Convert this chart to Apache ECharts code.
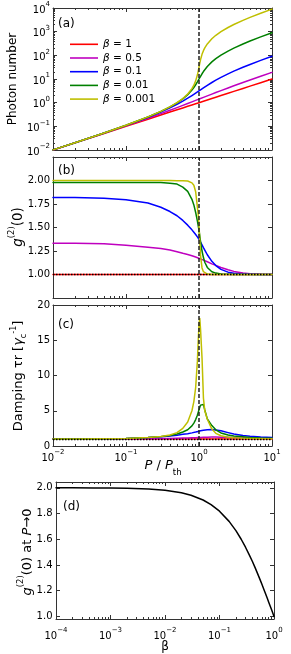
<!DOCTYPE html>
<html><head><meta charset="utf-8">
<script src="https://cdn.jsdelivr.net/npm/echarts@6/dist/echarts.min.js"></script>
<style>html,body{margin:0;padding:0;background:#fff}#c{width:291px;height:654px}</style>
</head><body><div id="c"></div>
<script>
// ---------------- data ----------------
const pump = [0.01,0.02,0.05,0.1,0.2,0.3,0.4,0.5,0.6,0.7,0.8,0.85,0.9,0.95,0.975,1.0,1.025,1.05,1.1,1.15,1.2,1.3,1.5,1.7,2,2.5,3,4,5,7,10];
const betaNames = ['β = 1','β = 0.5','β = 0.1','β = 0.01','β = 0.001'];
const colors = ['#ff0000','#bf00bf','#0000ff','#008000','#bfbf00'];

const photonB1    = [0.01,0.02,0.05,0.1,0.2,0.3,0.4,0.5,0.6,0.7,0.8,0.85,0.9,0.95,0.975,1.0,1.025,1.05,1.1,1.15,1.2,1.3,1.5,1.7,2,2.5,3,4,5,7,10];
const photonB05   = [0.01005,0.0202,0.0513,0.105,0.2198,0.344,0.477,0.618,0.766,0.921,1.081,1.162,1.245,1.329,1.372,1.414,1.457,1.5,1.587,1.674,1.762,1.940,2.303,2.672,3.236,4.193,5.162,7.123,9.099,13.07,19.05];
const photonB01   = [0.0101,0.0204,0.0524,0.1098,0.2426,0.405,0.606,0.854,1.162,1.541,2.0,2.26,2.541,2.842,3.0,3.162,3.329,3.5,3.854,4.223,4.606,5.405,7.11,8.908,11.71,16.51,21.40,31.28,41.21,61.14,91.10];
const photonB001  = [0.0101,0.0204,0.0526,0.1109,0.2492,0.426,0.660,0.981,1.448,2.176,3.416,4.385,5.72,7.56,8.70,10,11.45,13.05,16.62,20.59,24.83,33.84,52.84,72.35,101.96,151.6,201.5,301.3,401.2,601.2,901.1];
const photonB0001 = [0.0101,0.0204,0.0526,0.1111,0.2499,0.4286,0.666,0.998,1.494,2.316,3.923,5.47,8.31,14.69,21.13,31.62,46.87,65.93,110,157.3,205.8,304.3,503,702.4,1002,1501.7,2001.5,3001.3,4001,6001,9001];

const g2B1    = [1,1,1,1,1,1,1,1,1,1,1,1,1,1,1,1,1,1,1,1,1,1,1,1,1,1,1,1,1,1,1];
const g2B05   = [1.333,1.332,1.328,1.31,1.29,1.276,1.26,1.243,1.226,1.213,1.2,1.193,1.186,1.18,1.176,1.173,1.17,1.166,1.16,1.153,1.147,1.135,1.113,1.097,1.075,1.05,1.033,1.017,1.009,1.003,1.001];
const g2B01   = [1.82,1.818,1.81,1.795,1.76,1.715,1.67,1.625,1.575,1.525,1.475,1.45,1.425,1.40,1.388,1.375,1.36,1.345,1.315,1.285,1.26,1.21,1.14,1.095,1.055,1.025,1.013,1.004,1.002,1.0,1.0];
const g2B001  = [1.98,1.98,1.98,1.98,1.98,1.978,1.972,1.962,1.93,1.885,1.80,1.74,1.66,1.57,1.52,1.47,1.41,1.35,1.25,1.18,1.13,1.075,1.03,1.015,1.006,1.002,1.0,1.0,1.0,1.0,1.0];
const g2B0001 = [2.0,2.0,2.0,2.0,2.0,2.0,1.999,1.998,1.997,1.995,1.975,1.95,1.88,1.72,1.64,1.52,1.35,1.20,1.07,1.03,1.015,1.005,1.0,1.0,1.0,1.0,1.0,1.0,1.0,1.0,1.0];

const dampB1    = [1,1,1,1,1,1,1,1,1,1,1,1,1,1,1,1,1,1,1,1,1,1,1,1,1,1,1,1,1,1,1];
const dampB05   = [1.0,1.0,1.01,1.02,1.04,1.06,1.08,1.1,1.12,1.14,1.16,1.17,1.18,1.19,1.195,1.2,1.205,1.21,1.22,1.23,1.24,1.25,1.26,1.26,1.25,1.23,1.21,1.18,1.15,1.11,1.08];
const dampB01   = [1.0,1.01,1.03,1.08,1.2,1.32,1.42,1.54,1.65,1.74,1.86,1.92,1.98,2.04,2.07,2.1,2.13,2.16,2.2,2.24,2.27,2.31,2.33,2.28,2.15,1.9,1.7,1.48,1.38,1.27,1.2];
const dampB001  = [1.0,1.01,1.03,1.08,1.2,1.33,1.5,1.7,1.98,2.3,2.85,3.25,3.75,4.35,4.75,5.15,5.5,5.8,6.02,5.9,5.1,3.85,2.9,2.3,1.85,1.55,1.42,1.3,1.22,1.14,1.1];
const dampB0001 = [1.0,1.01,1.03,1.08,1.2,1.35,1.55,1.9,2.5,3.4,5.0,6.3,8.3,12.0,14.8,17.2,18.1,16.5,12.5,6.8,5.0,3.8,2.4,1.8,1.45,1.25,1.17,1.1,1.07,1.04,1.02];

const betaVals = [1e-4,2e-4,5e-4,1e-3,2e-3,5e-3,0.01,0.02,0.03,0.05,0.07,0.1,0.15,0.2,0.25,0.3,0.35,0.4,0.45,0.5,0.55,0.6,0.65,0.7,0.75,0.8,0.85,0.9,0.95,1.0];
const g2Zero   = [1.9998,1.9996,1.999,1.998,1.996,1.990,1.980,1.961,1.942,1.905,1.869,1.818,1.739,1.667,1.6,1.538,1.481,1.429,1.379,1.333,1.290,1.25,1.212,1.176,1.143,1.111,1.081,1.053,1.026,1.0];

const pumpTicks   = [0.01,0.1,1,10];
const photonTicks = [0.01,0.1,1,10,100,1000,10000];
const g2Ticks     = [1.0,1.25,1.5,1.75,2.0];
const dampTicks   = [0,5,10,15,20];
const betaTicks   = [1e-4,1e-3,1e-2,1e-1,1];
const g2ZeroTicks = [1.0,1.2,1.4,1.6,1.8,2.0];

// ---------------- helpers ----------------
const FF = 'DejaVu Sans';
const AX = '#333';
function minorLog(majors){ const out=[]; for(let i=0;i<majors.length-1;i++){ for(let k=2;k<=9;k++) out.push(+(majors[i]*k).toPrecision(6)); } return out; }
function logFmt(v){ const e=Math.round(Math.log10(v)); return '{b|10}{s|'+(e<0?'−'+(-e):String(e))+'}'; }
const logRich = { b:{fontFamily:FF,fontSize:10,color:'#000',verticalAlign:'bottom',lineHeight:14}, s:{fontFamily:FF,fontSize:7,color:'#000',verticalAlign:'top'} };

const xAxes=[], yAxes=[];
function ax(list, type, g, min, max, pos, ticks, len, showLine){
  list.push({type, gridIndex:g, min, max, position:pos, logBase:10,
    axisLine:{show:showLine, onZero:false, lineStyle:{color:AX,width:1}},
    axisTick:{show:true, inside:true, length:len, customValues:ticks, lineStyle:{color:AX,width:1}},
    axisLabel:{show:false}, splitLine:{show:false}, splitArea:{show:false}, minorTick:{show:false}, silent:true});
  return list.length-1;
}
function grid(g, xt, xmin, xmax, xMaj, xMin, xLab, yt, ymin, ymax, yMaj, yMin, yLab){
  const xi = ax(xAxes, xt, g, xmin, xmax, 'bottom', xMaj, 4, true);
  if (xMin) ax(xAxes, xt, g, xmin, xmax, 'bottom', xMin, 2, false);
  ax(xAxes, xt, g, xmin, xmax, 'top', xMaj, 4, true);
  if (xMin) ax(xAxes, xt, g, xmin, xmax, 'top', xMin, 2, false);
  const yi = ax(yAxes, yt, g, ymin, ymax, 'left', yMaj, 4, true);
  if (yMin) ax(yAxes, yt, g, ymin, ymax, 'left', yMin, 2, false);
  ax(yAxes, yt, g, ymin, ymax, 'right', yMaj, 4, true);
  if (yMin) ax(yAxes, yt, g, ymin, ymax, 'right', yMin, 2, false);
  if (xLab) xAxes[xi].axisLabel = Object.assign({show:true, customValues:xMaj, fontFamily:FF, fontSize:10, color:'#000'}, xLab);
  if (yLab) yAxes[yi].axisLabel = Object.assign({show:true, customValues:yMaj, fontFamily:FF, fontSize:10, color:'#000'}, yLab);
  return [xi, yi];
}
const pumpMinor = minorLog(pumpTicks), photonMinor = minorLog(photonTicks), betaMinor = minorLog(betaTicks);

const A = grid(0,'log',0.01,10,pumpTicks,pumpMinor,null,'log',0.01,10000,photonTicks,photonMinor,{formatter:logFmt,rich:logRich,margin:3});
const B = grid(1,'log',0.01,10,pumpTicks,pumpMinor,null,'value',0.75,2.25,g2Ticks,null,{formatter:v=>v.toFixed(2),margin:3});
const C = grid(2,'log',0.01,10,pumpTicks,pumpMinor,{formatter:logFmt,rich:logRich,margin:3},'value',0,20,dampTicks,null,{formatter:v=>String(v),margin:3});
const D = grid(3,'log',1e-4,1,betaTicks,betaMinor,{formatter:logFmt,rich:logRich,margin:8},'value',0.98,2.045,g2ZeroTicks,null,{formatter:v=>v.toFixed(1),margin:3.5});

function line(name, xs, ys, color, idx, extra){
  return Object.assign({type:'line', name, data: xs.map((x,i)=>[x,ys[i]]), xAxisIndex:idx[0], yAxisIndex:idx[1],
    symbol:'none', showSymbol:false, smooth:false, lineStyle:{color,width:1.5,join:'round',cap:'round'}, itemStyle:{color}, silent:true, animation:false}, extra||{});
}
const vDash = {markLine:{silent:true, animation:false, symbol:['none','none'], label:{show:false}, lineStyle:{color:'#222',type:[4,2],width:1.5}, data:[{xAxis:1}]}};
const hDot  = {markLine:{silent:true, animation:false, symbol:['none','none'], label:{show:false}, lineStyle:{color:'#000',type:[1.5,1.5],width:1.3}, data:[{yAxis:1}]}};

const photon = [photonB1,photonB05,photonB01,photonB001,photonB0001];
const g2s = [g2B1,g2B05,g2B01,g2B001,g2B0001];
const damps = [dampB1,dampB05,dampB01,dampB001,dampB0001];
const series = [];
for (let k=0;k<5;k++) series.push(line(betaNames[k], pump, photon[k], colors[k], A, k===4?vDash:null));
for (let k=0;k<5;k++) series.push(line(betaNames[k], pump, g2s[k], colors[k], B, k===4?vDash:null));
series.push(line('ref1', [0.01,10], [1,1], 'rgba(0,0,0,0)', B, hDot));
for (let k=0;k<5;k++) series.push(line(betaNames[k], pump, damps[k], colors[k], C, k===4?vDash:null));
series.push(line('ref2', [0.01,10], [1,1], 'rgba(0,0,0,0)', C, hDot));
series.push(line('g2zero', betaVals, g2Zero, '#000', D));

const T = (o)=>Object.assign({fontFamily:FF,color:'#000',fill:'#000'},o);
const option = {
  animation:false,
  backgroundColor:'#fff',
  grid:[
    {left:53,top:8,width:219,height:142,outerBoundsMode:'none',containLabel:false},
    {left:53,top:157,width:219,height:141,outerBoundsMode:'none',containLabel:false},
    {left:53,top:305,width:219,height:141,outerBoundsMode:'none',containLabel:false},
    {left:56,top:482,width:218,height:137,outerBoundsMode:'none',containLabel:false}
  ],
  xAxis:xAxes, yAxis:yAxes, series,
  legend:{show:true, selectedMode:false, orient:'vertical', left:70, top:38.3, padding:0, icon:'rect', itemWidth:28, itemHeight:1.6, itemGap:1.7,
    data:betaNames,
    formatter:(n)=>'{i|β}{n|'+n.slice(1)+'}',
    textStyle:{fontFamily:FF,fontSize:10.5,color:'#000',lineHeight:12,
      rich:{i:{fontFamily:FF,fontSize:10.5,fontStyle:'italic',color:'#000',lineHeight:12}, n:{fontFamily:FF,fontSize:10.5,color:'#000',lineHeight:12}}}},
  graphic:[
    {type:'text', x:13, y:79, rotation:Math.PI/2, silent:true, style:T({text:'Photon number', font:'13px "DejaVu Sans"', align:'center', verticalAlign:'middle', textAlign:'center', textVerticalAlign:'middle'})},
    {type:'text', x:16, y:227, rotation:Math.PI/2, silent:true, style:T({text:'{i|g}{s|(2)}{n|(0)}', align:'center', verticalAlign:'middle', textAlign:'center', textVerticalAlign:'middle',
      rich:{i:{fontFamily:FF,fontSize:13.5,fontStyle:'italic',verticalAlign:'bottom',lineHeight:18}, s:{fontFamily:FF,fontSize:8.5,verticalAlign:'top'}, n:{fontFamily:FF,fontSize:13.5,verticalAlign:'bottom',lineHeight:18}}})},
    {type:'text', x:19, y:376, rotation:Math.PI/2, silent:true, style:T({text:'{n|Damping τr [}{i|γ}{sub|c}{sup|-1}{n|]}', align:'center', verticalAlign:'middle', textAlign:'center', textVerticalAlign:'middle',
      rich:{n:{fontFamily:FF,fontSize:13,lineHeight:18}, i:{fontFamily:FF,fontSize:13,fontStyle:'italic',lineHeight:18}, sub:{fontFamily:FF,fontSize:8,verticalAlign:'bottom'}, sup:{fontFamily:FF,fontSize:8,verticalAlign:'top'}}})},
    {type:'text', x:25, y:552, rotation:Math.PI/2, silent:true, style:T({text:'{i|g}{s|(2)}{n|(0) at }{i|P}{n|→0}', align:'center', verticalAlign:'middle', textAlign:'center', textVerticalAlign:'middle',
      rich:{i:{fontFamily:FF,fontSize:13,fontStyle:'italic',verticalAlign:'bottom',lineHeight:18}, s:{fontFamily:FF,fontSize:8.5,verticalAlign:'top'}, n:{fontFamily:FF,fontSize:13,verticalAlign:'bottom',lineHeight:18}}})},
    {type:'text', x:58, y:24, silent:true, style:T({text:'(a)', font:'13.5px "DejaVu Sans"', align:'left', verticalAlign:'middle', textAlign:'left', textVerticalAlign:'middle'})},
    {type:'text', x:58, y:171, silent:true, style:T({text:'(b)', font:'13.5px "DejaVu Sans"', align:'left', verticalAlign:'middle', textAlign:'left', textVerticalAlign:'middle'})},
    {type:'text', x:58, y:325, silent:true, style:T({text:'(c)', font:'13.5px "DejaVu Sans"', align:'left', verticalAlign:'middle', textAlign:'left', textVerticalAlign:'middle'})},
    {type:'text', x:63, y:507, silent:true, style:T({text:'(d)', font:'13.5px "DejaVu Sans"', align:'left', verticalAlign:'middle', textAlign:'left', textVerticalAlign:'middle'})},
    {type:'text', x:163, y:468, silent:true, style:T({text:'{i|P}{n| / }{i|P}{sub|th}', align:'center', verticalAlign:'middle', textAlign:'center', textVerticalAlign:'middle',
      rich:{i:{fontFamily:FF,fontSize:13,fontStyle:'italic',verticalAlign:'top',lineHeight:18}, n:{fontFamily:FF,fontSize:13,verticalAlign:'top',lineHeight:18}, sub:{fontFamily:FF,fontSize:8.5,verticalAlign:'bottom'}}})},
    {type:'text', x:165, y:647, silent:true, style:T({text:'β', font:'italic 13.5px "DejaVu Sans"', align:'center', verticalAlign:'middle', textAlign:'center', textVerticalAlign:'middle'})}
  ]
};
const chart = echarts.init(document.getElementById('c'), null, {renderer:'canvas'});
chart.setOption(option);
</script>
</body></html>
